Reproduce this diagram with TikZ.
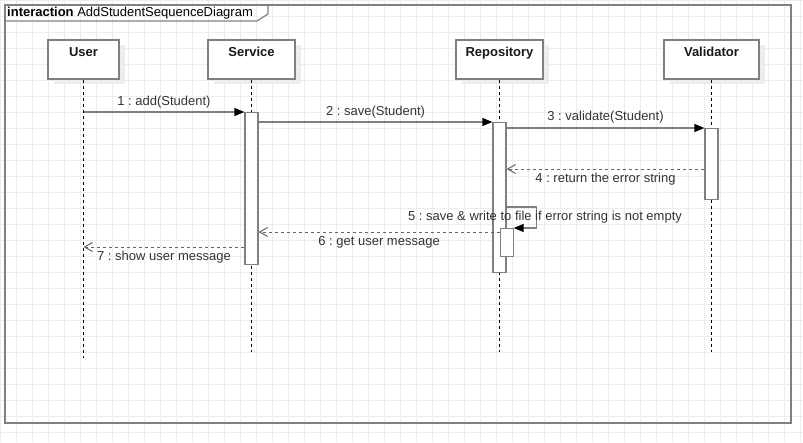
\documentclass[tikz,border=0pt]{standalone}
\usepackage{fontspec}
\setmainfont{Liberation Sans}
\frenchspacing
\usetikzlibrary{arrows.meta, shadows}
\definecolor{linegray}{HTML}{808080}
\definecolor{textgray}{HTML}{333333}
\begin{document}
\begin{tikzpicture}[x=1pt, y=-1pt, font=\fontsize{13}{16}\selectfont]
	\useasboundingbox (0,0) rectangle (803,442);
	\draw[black!7, line width=0.8pt] (0,442) grid[step=16pt] (803,0);

	% the frame with its name tag
	\draw[linegray, line width=1.3pt] (5,5) rectangle (791,423);
	\node[anchor=base west, inner sep=0, text=black] (tag) at (7,16) {\textbf{interaction} AddStudentSequenceDiagram};
	\draw[linegray, line width=1.2pt] (5,21) -- (257,21) -- (268,14) -- (268,5);

	% define the styles of heads, bars and messages
	\tikzstyle{head} = [draw=linegray, fill=white, line width=1.2pt, minimum height=39pt, inner sep=0, drop shadow={shadow xshift=6pt, shadow yshift=-5pt, fill=black!7, opacity=1}, label={[anchor=base, yshift=-17pt, inner sep=0, text=black!90]north:\textbf{#1}}]
	\tikzstyle{bar} = [draw=linegray, fill=white, line width=1.2pt, minimum width=13pt, inner sep=0, anchor=north]
	\tikzstyle{lifeline} = [black, line width=0.8pt, dash pattern=on 3pt off 3pt]
	\tikzstyle{call} = [linegray, line width=1.2pt, -{Triangle[length=10pt, width=8pt, black]}]
	\tikzstyle{reply} = [black!60, line width=1pt, dash pattern=on 3pt off 3pt, -{Straight Barb[length=8pt, width=9pt]}]
	\tikzstyle{msg} = [text=textgray, inner sep=0]

	\node[head=User, minimum width=71pt] (user) at (83.5,59.5) {};
	\node[head=Service, minimum width=87pt] (service) at (251.5,59.5) {};
	\node[head=Repository, minimum width=87pt] (repo) at (499.5,59.5) {};
	\node[head=Validator, minimum width=95pt] (valid) at (711.5,59.5) {};

	\foreach \n/\y in {user/358, service/352, repo/352, valid/352}{
		\coordinate (\n-end) at (\n.south |- 0,\y);
		\draw[lifeline] (\n.south) -- (\n-end);
	}

	% activation bars
	\node[bar, minimum height=152pt] (servicebar) at (service.south |- 0,112) {};
	\node[bar, minimum height=150pt] (repobar) at (repo.south |- 0,122) {};
	\node[bar, minimum height=71pt] (validbar) at (valid.south |- 0,128) {};
	\node[bar, anchor=north west, minimum height=28pt] (selfbar) at (repobar.center |- 0,228) {};

	% rows of the replies
	\coordinate (row4) at (0,169);
	\coordinate (row5) at (0,207);
	\coordinate (row6) at (0,232);
	\coordinate (row7) at (0,247);

	\draw[call] (servicebar.north west -| user) -- (servicebar.north west) node[msg, midway, yshift=10pt] {1 : add(Student)};
	\draw[call] (repobar.north west -| servicebar.east) -- (repobar.north west) node[msg, midway, yshift=10pt] {2 : save(Student)};
	\draw[call] (validbar.north west -| repobar.east) -- (validbar.north west) node[msg, midway, yshift=11pt] {3 : validate(Student)};
	\draw[reply] (validbar.west |- row4) -- (repobar.east |- row4) node[msg, midway, yshift=-10pt] {4 : return the error string};
	\draw[call] (repobar.east |- row5) -- ++(30,0) |- (selfbar.north east);
	\node[msg] (self) at (545,217) {5 : save \& write to file if error string is not empty};
	\draw[reply] (selfbar.west |- row6) -- (servicebar.east |- row6) node[msg, midway, yshift=-10pt] {6 : get user message};
	\draw[reply] (servicebar.west |- row7) -- (user |- row7) node[msg, midway, yshift=-10pt] {7 : show user message};
\end{tikzpicture}
\end{document}
